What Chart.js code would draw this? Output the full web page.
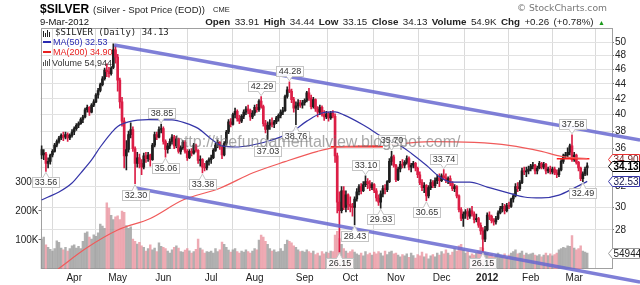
<!DOCTYPE html>
<html><head><meta charset="utf-8">
<script src="https://cdn.jsdelivr.net/npm/chart.js@4"></script>
<style>
html,body{margin:0;padding:0;background:#fff;}
#wrap{position:relative;width:640px;height:285px;overflow:hidden;font-family:"Liberation Sans",Arial,sans-serif;background:#fff;}
#wrap canvas{position:absolute;left:0;top:0;}
.t{position:absolute;white-space:nowrap;line-height:1;}
</style></head><body>
<div id="wrap">
<canvas id="c" width="640" height="285"></canvas>
<div class="t" style="left:40px;top:2.5px;font-size:12px;font-weight:bold;color:#000">$SILVER</div>
<div class="t" style="left:93px;top:4.7px;font-size:9.5px;color:#222">(Silver - Spot Price (EOD))</div>
<div class="t" style="left:213px;top:6.3px;font-size:7.5px;color:#222">CME</div>
<div class="t" style="right:33px;top:3px;font-family:'DejaVu Sans',sans-serif;font-size:9.2px;color:#777">© StockCharts.com</div>
<div class="t" style="left:40px;top:17px;font-size:9.5px;color:#111">9-Mar-2012</div>
<div class="t" style="right:35px;top:16.5px;font-size:9.8px;word-spacing:1.7px;color:#222"><b>Open</b> 33.91 <b>High</b> 34.44 <b>Low</b> 33.15 <b>Close</b> 34.13 <b>Volume</b> 54.9K <b>Chg</b> +0.26 (+0.78%) <span style="color:#1a9a1a;font-size:7px">▲</span></div>
<div class="t" id="lg1" style="left:55px;top:28.4px;font-family:'DejaVu Sans Mono',monospace;font-size:9px;color:#222"></div>
<div class="t" id="lg2" style="left:53px;top:38.4px;font-size:9px;color:#2a2ab0"></div>
<div class="t" id="lg3" style="left:53px;top:48.4px;font-size:9px;color:#e82020"></div>
<div class="t" id="lg4" style="left:52px;top:58.9px;font-size:9px;color:#333"></div>
<div class="t" style="left:175px;top:133.5px;font-size:16px;color:rgba(115,115,115,0.62)">http://thefundamentalview.blogspot.com/</div>
</div>
<script>
// ---------- data ----------
const monthIdx = [15,35,56,78,98,121,142,163,184,205,225,245];
const monthLabels = ['Apr','May','Jun','Jul','Aug','Sep','Oct','Nov','Dec','2012','Feb','Mar'];
const priceTicks = [28,30,32,34,36,38,40,42,44,46,48,50];
const volTicks = [100,200,300];

const opens = [
 35.9,35.3,35.4,34.4,34.6,35.3,35.7,36.4,36.8,37.2,37.5,37.3,37.6,37.2,37.5,
 37.9,38.3,38.7,38.9,39.4,39.7,40.6,40.9,40.3,41.2,41.6,42.5,43.1,43.9,44.7,45.9,45.7,45.4,46.3,48.9,
 47.8,44.5,41.6,39.2,35.2,35.9,37.6,38.2,36.0,34.4,35.0,34.4,34.0,35.2,34.9,35.3,34.8,36.4,37.6,37.3,38.2,
 38.3,36.8,35.9,36.3,36.8,37.3,36.3,37.1,35.7,36.1,36.7,35.7,35.0,35.7,35.5,36.4,35.8,34.7,34.8,34.0,33.9,34.6,
 34.8,35.0,35.8,36.4,36.7,36.2,35.3,36.6,37.9,39.1,38.8,40.0,40.4,39.5,39.2,39.8,40.3,40.7,40.5,39.7,
 40.2,40.9,40.6,41.7,41.0,38.9,38.2,38.7,39.0,38.8,39.1,39.6,39.9,40.3,40.5,42.3,43.2,43.0,41.9,40.8,41.1,41.5,41.2,
 41.5,41.8,42.8,42.1,41.0,41.9,40.7,40.3,40.9,40.0,39.7,40.1,39.6,40.2,39.8,35.2,30.5,29.7,31.6,30.0,31.2,
 30.3,30.1,30.0,30.8,31.5,32.0,31.6,32.2,32.5,32.3,31.9,32.2,31.6,30.9,30.5,31.3,31.8,31.7,32.5,34.6,35.1,
 34.2,32.7,33.8,34.3,34.2,34.5,34.9,34.0,34.2,34.4,33.9,33.2,32.4,31.9,32.1,31.1,31.9,32.4,32.1,32.6,32.9,
 32.6,33.1,32.9,32.6,32.8,32.3,31.8,32.0,31.1,29.8,29.0,29.4,29.6,29.2,29.7,29.4,28.9,29.0,28.4,27.9,27.2,
 28.0,29.3,29.2,28.8,28.7,29.0,29.5,29.9,30.1,29.7,30.2,30.1,30.8,31.1,32.0,31.8,32.4,33.6,33.5,33.6,
 33.8,34.1,34.2,33.6,33.9,34.4,34.0,34.3,33.6,33.8,33.5,33.8,33.4,33.2,33.7,34.6,35.2,35.3,35.6,36.3,
 34.8,35.3,34.5,33.9,32.8,33.3,33.91
];
const highs = [
 36.3,35.9,35.6,35.0,35.4,35.9,36.6,37.0,37.4,37.7,37.9,37.9,37.8,37.7,38.2,
 38.5,38.9,39.1,39.6,39.9,40.8,41.2,41.0,41.4,41.9,42.7,43.4,44.1,45.0,46.2,46.8,46.3,46.4,49.8,49.5,
 48.2,44.8,42.2,39.6,36.9,38.0,39.0,38.5,36.2,35.6,35.4,34.8,35.5,35.6,35.6,35.4,36.6,37.9,37.9,38.5,38.85,
 38.5,37.0,36.6,37.1,37.6,37.5,37.4,37.2,36.3,36.9,36.9,35.9,35.9,36.0,36.6,36.5,35.9,35.2,34.9,34.4,34.7,35.0,
 35.3,36.0,36.6,37.0,36.8,36.4,36.8,38.1,39.4,39.5,40.2,40.8,40.6,39.9,40.0,40.6,41.0,41.2,40.7,40.5,
 41.2,41.3,41.9,42.29,41.2,39.3,39.1,39.4,39.6,39.3,39.8,40.1,40.6,40.9,42.5,43.6,44.28,43.3,42.2,41.6,41.9,41.8,41.8,
 42.0,43.0,43.4,42.5,42.2,42.0,41.0,41.2,41.1,40.5,40.4,40.3,40.4,40.5,40.1,35.5,31.5,32.0,32.0,31.6,31.3,
 31.0,30.4,31.0,31.8,32.2,32.3,32.5,33.1,32.8,32.6,32.4,32.3,31.8,31.2,31.6,32.1,32.2,32.6,34.9,35.7,35.3,
 34.3,34.0,34.6,34.8,34.7,35.2,35.1,34.4,34.6,34.5,34.0,33.5,32.7,32.4,32.2,32.1,32.7,32.6,32.9,33.2,33.3,
 33.3,33.74,33.3,33.0,33.1,32.5,32.2,32.1,31.2,30.0,29.6,29.8,29.9,29.9,30.1,29.6,29.4,29.1,28.6,28.2,28.3,
 29.5,29.6,29.3,29.0,29.2,29.7,30.1,30.4,30.3,30.4,30.5,30.9,31.3,32.3,32.4,32.6,33.9,34.0,34.0,34.1,
 34.3,34.5,34.3,34.1,34.6,34.5,34.5,34.4,34.0,34.1,34.0,34.0,33.7,33.9,34.8,35.4,35.6,36.1,36.5,37.58,
 35.6,35.4,34.6,34.0,33.5,34.0,34.44
];
const lows = [
 34.9,34.8,33.56,33.9,34.3,35.1,35.6,36.2,36.6,37.0,36.9,37.1,36.8,37.0,37.3,
 37.6,38.1,38.4,38.8,39.0,39.6,40.3,39.9,40.2,41.0,41.5,42.1,42.9,43.7,44.5,45.0,44.9,45.2,46.1,46.9,
 43.0,40.8,38.6,33.9,33.7,35.6,37.2,35.7,32.3,34.0,33.9,33.2,33.8,34.5,34.6,34.1,34.7,36.2,37.0,37.2,37.8,
 36.5,35.06,35.5,36.0,36.5,36.0,36.1,35.5,35.4,35.9,35.5,34.7,34.9,35.2,35.4,35.6,34.4,34.1,33.38,33.6,33.7,34.2,
 34.4,34.9,35.7,36.1,35.9,34.9,35.2,36.4,37.7,38.5,38.7,39.6,39.2,38.9,39.0,39.5,40.0,40.1,39.3,39.5,
 39.9,40.3,40.4,40.8,38.6,37.8,37.03,38.2,38.5,38.4,38.9,39.2,39.6,40.0,40.4,42.1,42.8,41.5,40.3,38.76,40.6,40.9,40.8,
 41.2,41.6,41.8,40.7,40.8,40.4,39.7,40.0,39.8,39.3,39.5,39.2,39.4,39.6,34.5,29.5,26.15,29.5,29.8,29.6,29.8,
 29.6,29.2,28.43,30.6,31.2,31.3,31.5,32.0,31.8,31.6,31.7,31.4,30.6,30.2,29.93,31.0,31.3,31.5,32.4,34.2,34.0,
 32.5,32.6,33.5,33.9,33.9,34.3,33.7,33.5,33.9,33.6,32.9,32.2,31.6,31.4,30.65,30.9,31.7,31.9,31.9,32.3,32.0,
 32.5,32.7,32.4,32.3,32.1,31.6,31.5,30.9,29.6,28.8,28.3,29.0,28.9,29.0,29.2,28.6,28.7,28.2,27.6,26.15,27.0,
 27.9,28.9,28.6,28.4,28.5,28.9,29.4,29.6,29.4,29.6,29.9,30.0,30.5,31.0,31.5,31.6,32.3,33.2,33.0,33.3,
 33.6,33.8,33.3,33.3,33.8,33.8,33.8,33.3,33.4,33.3,33.3,33.2,32.9,33.0,33.6,34.4,34.9,35.1,35.3,34.6,
 34.6,34.3,33.6,32.6,32.49,33.1,33.15
];
const closes = [
 35.3,35.5,34.4,34.6,35.3,35.7,36.4,36.8,37.2,37.5,37.3,37.6,37.2,37.5,37.9,
 38.3,38.7,38.9,39.4,39.7,40.6,40.9,40.3,41.2,41.6,42.5,43.1,43.9,44.7,45.9,45.7,45.4,46.2,48.9,47.8,
 44.5,41.6,39.2,35.2,35.9,37.6,38.2,36.0,34.4,35.0,34.4,34.0,35.2,34.9,35.3,34.8,36.4,37.6,37.3,38.2,38.3,
 36.8,35.9,36.3,36.8,37.3,36.3,37.1,35.7,36.1,36.7,35.7,35.0,35.7,35.5,36.4,35.8,34.7,34.8,34.0,33.9,34.6,34.8,
 35.0,35.8,36.4,36.7,36.2,35.3,36.6,37.9,39.1,38.8,40.0,40.4,39.5,39.2,39.8,40.3,40.7,40.5,39.7,40.2,
 40.9,40.6,41.7,41.0,38.9,38.2,38.7,39.0,38.8,39.1,39.6,39.9,40.3,40.5,42.3,43.2,43.0,41.9,40.8,41.1,41.5,41.2,41.5,
 41.8,42.8,42.1,41.0,41.9,40.7,40.3,40.9,40.0,39.7,40.1,39.6,40.2,39.8,35.2,30.5,29.7,31.6,30.0,31.2,30.3,
 30.1,30.0,30.8,31.5,32.0,31.6,32.2,32.5,32.3,31.9,32.2,31.6,30.9,30.5,31.3,31.8,31.7,32.5,34.6,35.1,34.2,
 32.7,33.8,34.3,34.2,34.5,34.9,34.0,34.2,34.4,33.9,33.2,32.4,31.9,32.1,31.1,31.9,32.4,32.1,32.6,32.9,32.6,
 33.1,32.9,32.6,32.8,32.3,31.8,32.0,31.1,29.8,29.0,29.4,29.6,29.2,29.7,29.4,28.9,29.0,28.4,27.9,27.2,28.0,
 29.3,29.2,28.8,28.7,29.0,29.5,29.9,30.1,29.7,30.2,30.1,30.8,31.1,32.0,31.8,32.4,33.6,33.5,33.6,33.8,
 34.1,34.2,33.6,33.9,34.4,34.0,34.3,33.6,33.8,33.5,33.8,33.4,33.2,33.7,34.6,35.2,35.3,35.6,36.3,34.8,
 35.3,34.5,33.9,32.8,33.3,33.8,34.13
];
const volumesK = [
 103,110,83,75,68,62,70,97,92,72,66,75,62,70,80,
 83,72,78,70,95,124,128,110,103,118,113,125,155,148,140,228,210,185,170,180,
 183,170,200,195,150,140,145,103,95,86,92,80,75,62,70,83,66,72,60,90,78,
 75,70,62,55,66,75,80,72,60,58,65,70,63,55,60,68,103,72,66,55,60,58,
 62,55,70,60,66,93,85,75,65,58,66,70,60,55,62,58,66,60,55,62,
 70,66,100,117,110,95,85,70,62,66,58,60,70,62,85,100,95,90,80,75,66,60,62,
 58,66,60,55,62,50,55,45,60,52,58,55,62,60,117,130,105,85,70,62,55,
 60,66,58,52,48,55,45,60,50,55,48,58,52,60,55,45,62,50,58,62,52,
 55,48,42,50,45,52,40,55,46,38,50,45,58,42,52,35,45,50,42,55,48,
 60,52,66,55,48,58,70,62,80,85,66,55,60,45,52,48,55,62,75,72,58,
 55,48,52,42,50,55,48,45,52,40,48,55,60,66,52,55,62,48,55,50,
 52,55,48,45,50,42,48,55,46,52,45,50,55,66,70,75,72,80,78,115,
 72,66,70,80,62,58,54.944
];
const ma50Idx = [0,3,8,14,18,23,27,32,35,40,49,60,66,72,78,83,89,97,106,115,122,129,135,139,148,157,164,170,177,183,189,197,205,215,222,230,238,245,251];
const ma50Val = [30.70,30.99,31.47,32.36,33.38,34.76,36.18,37.78,38.56,39.11,39.38,39.35,38.98,38.33,37.1,36.3,36.18,36.41,36.98,37.89,39.2,40.2,40.33,39.96,38.73,37.3,36.5,35.5,34.2,33.0,32.45,32.45,31.96,31.37,30.99,30.9,31.18,31.87,32.53];
const ma200Idx = [7.6,21,35,50,65,82,97,112,127,135,142,156,179,199,215,230,239,251];
const ma200Val = [24.8,26.5,27.98,29.0,30.7,31.85,33.38,34.58,35.7,36.15,36.26,36.37,36.8,36.7,36.37,35.7,35.15,34.90];
const levelIdx = [[133,157],[237,252]];
const levelVal = [36.2,34.9];
const chanUpperIdx = [33.4,275.3], chanUpperVal = [49.61,36.98];
const chanLowerIdx = [43.05,275.3], chanLowerVal = [31.87,23.82];
const hiLabelIdx = [55,101,114,149,161,185,244];
const loLabelIdx = [2,43,57,74,104,117,137,144,156,177,203,249];

// ---------- build ----------
const n = closes.length;
const lastClose = closes[n-1], lastMa50 = ma50Val[ma50Val.length-1], lastMa200 = ma200Val[ma200Val.length-1];
const lastVol = Math.round(volumesK[n-1]*1000);
document.getElementById('lg1').textContent = '$SILVER (Daily) ' + lastClose.toFixed(2);
document.getElementById('lg2').textContent = 'MA(50) ' + lastMa50.toFixed(2);
document.getElementById('lg3').textContent = 'MA(200) ' + lastMa200.toFixed(2);
document.getElementById('lg4').textContent = 'Volume ' + lastVol.toLocaleString('en-US');

const isUp = closes.map((c,i) => i === 0 ? true : c >= closes[i-1]);
const UP = '#1e1e1e', DOWN = '#dc1e46';
const candleColor = ctx => isUp[ctx.dataIndex] ? UP : DOWN;
const wickData = closes.map((c,i) => ({x:i, y:[lows[i], highs[i]]}));
const bodyData = closes.map((c,i) => ({x:i, y:[opens[i], c]}));
const volData = volumesK.map((v,i) => ({x:i, y:v}));
const toPts = (xs, ys) => xs.map((x,i) => ({x:x, y:ys[i]}));
const FONT = 'Liberation Sans, Arial, sans-serif';

const datasets = [
 {type:'bar', data:volData, yAxisID:'yv', grouped:false, barThickness:1.8,
  backgroundColor: ctx => isUp[ctx.dataIndex] ? 'rgba(150,150,150,0.75)' : 'rgba(232,142,154,0.75)', order:10},
 {type:'bar', data:wickData, yAxisID:'y', grouped:false, barThickness:1, backgroundColor:candleColor, order:8},
 {type:'bar', data:bodyData, yAxisID:'y', grouped:false, barThickness:2, minBarLength:1, backgroundColor:candleColor, order:7},
 {type:'line', data:toPts(ma200Idx, ma200Val), yAxisID:'y', borderColor:'#f05a5a', borderWidth:1.2, pointRadius:0, cubicInterpolationMode:'monotone', order:6},
 {type:'line', data:toPts(levelIdx[0], [levelVal[0],levelVal[0]]), yAxisID:'y', borderColor:'#ff1e1e', borderWidth:1.5, pointRadius:0, order:6},
 {type:'line', data:toPts(levelIdx[1], [levelVal[1],levelVal[1]]), yAxisID:'y', borderColor:'#ff1e1e', borderWidth:1.5, pointRadius:0, order:6},
 {type:'line', data:toPts(ma50Idx, ma50Val), yAxisID:'y', borderColor:'#3535a8', borderWidth:1.2, pointRadius:0, cubicInterpolationMode:'monotone', order:5},
 {type:'line', data:toPts(chanUpperIdx, chanUpperVal), yAxisID:'y', borderColor:'rgba(104,104,208,0.85)', borderWidth:3.5, pointRadius:0, clip:false, order:1},
 {type:'line', data:toPts(chanLowerIdx, chanLowerVal), yAxisID:'y', borderColor:'rgba(104,104,208,0.85)', borderWidth:3.5, pointRadius:0, clip:false, order:1}
];

function annoBox(ctx, x, y, text, isHigh) {
  ctx.font = '9px ' + FONT;
  const w = Math.round(ctx.measureText(text).width + 4), h = 10;
  const bx = Math.round(x - w/2) + 0.5;
  const by = isHigh ? Math.round(y - 6 - h) + 0.5 : Math.round(y + 6) + 0.5;
  ctx.fillStyle = 'rgba(255,255,255,0.92)';
  ctx.strokeStyle = '#c4c4c4';
  ctx.lineWidth = 1;
  ctx.beginPath();
  if (isHigh) { ctx.moveTo(x-3, by+h); ctx.lineTo(x, y-1); ctx.lineTo(x+3, by+h); }
  else { ctx.moveTo(x-3, by); ctx.lineTo(x, y+1); ctx.lineTo(x+3, by); }
  ctx.closePath(); ctx.fill(); ctx.stroke();
  ctx.fillRect(bx, by, w, h); ctx.strokeRect(bx, by, w, h);
  ctx.beginPath();
  if (isHigh) { ctx.moveTo(x-2.5, by+h); ctx.lineTo(x+2.5, by+h); } else { ctx.moveTo(x-2.5, by); ctx.lineTo(x+2.5, by); }
  ctx.strokeStyle = '#fff'; ctx.stroke();
  ctx.fillStyle = '#333'; ctx.textAlign = 'center'; ctx.textBaseline = 'middle';
  ctx.fillText(text, bx + w/2, by + h/2 + 0.5);
}
function tag(ctx, y, text, border, color, bold) {
  const x0 = 608.5, x1 = 639.5, h = 10; y = Math.round(y) + 0.5;
  ctx.beginPath();
  ctx.moveTo(x0, y); ctx.lineTo(x0+4, y-h/2); ctx.lineTo(x1, y-h/2); ctx.lineTo(x1, y+h/2); ctx.lineTo(x0+4, y+h/2); ctx.closePath();
  ctx.fillStyle = '#fff'; ctx.fill(); ctx.strokeStyle = border; ctx.lineWidth = 1; ctx.stroke();
  ctx.fillStyle = color; ctx.font = (bold ? 'bold ' : '') + '10px ' + FONT;
  ctx.textAlign = 'left'; ctx.textBaseline = 'middle';
  ctx.fillText(text, x0 + 5, y + 0.5);
}
const deco = {
  id: 'deco',
  beforeDatasetsDraw(chart) {
    const {ctx, chartArea:a} = chart;
    ctx.save(); ctx.strokeStyle = '#a0a0a0'; ctx.lineWidth = 1;
    ctx.strokeRect(Math.round(a.left)+0.5, Math.round(a.top)+0.5, Math.round(a.right-a.left)-1, Math.round(a.bottom-a.top)-1);
    ctx.restore();
  },
  afterDraw(chart) {
    const {ctx} = chart; const xs = chart.scales.x, ys = chart.scales.y, yv = chart.scales.yv;
    ctx.save();
    ctx.fillStyle = '#222';
    ctx.fillRect(43,31,1,6); ctx.fillRect(45,33,1,4); ctx.fillRect(47,30,1,7); ctx.fillRect(49,32,1,5);
    ctx.fillStyle = '#2a2ab0'; ctx.fillRect(43,41,8,2);
    ctx.fillStyle = '#e82020'; ctx.fillRect(43,51,8,2);
    ctx.fillStyle = '#555'; ctx.fillRect(43,62,1,4); ctx.fillRect(45,60,1,6); ctx.fillRect(47,61,1,5); ctx.fillRect(49,59,1,7);
    hiLabelIdx.forEach(i => annoBox(ctx, xs.getPixelForValue(i), ys.getPixelForValue(highs[i]), highs[i].toFixed(2), true));
    loLabelIdx.forEach(i => annoBox(ctx, xs.getPixelForValue(i), ys.getPixelForValue(lows[i]), lows[i].toFixed(2), false));
    tag(ctx, ys.getPixelForValue(lastMa200), lastMa200.toFixed(2), '#e83030', '#702020', false);
    tag(ctx, ys.getPixelForValue(lastClose), lastClose.toFixed(2), '#000', '#000', true);
    tag(ctx, ys.getPixelForValue(lastMa50), lastMa50.toFixed(2), '#3535a8', '#202050', false);
    tag(ctx, yv.getPixelForValue(volumesK[n-1]), String(lastVol), '#999', '#222', false);
    ctx.restore();
  }
};

new Chart(document.getElementById('c'), {
  type: 'bar',
  data: { datasets },
  plugins: [deco],
  options: {
    responsive: false, animation: false, devicePixelRatio: 1,
    layout: { padding: { top: 28, left: 0, right: 0, bottom: 0 } },
    plugins: { legend: {display:false}, tooltip: {enabled:false}, title: {display:false} },
    scales: {
      x: { type:'linear', position:'bottom', min:-0.5, max:262.4, bounds:'data', offset:false,
        afterBuildTicks: s => { s.ticks = monthIdx.map(v => ({value:v})); },
        afterFit: s => { s.height = 16; },
        ticks: { autoSkip:false, maxRotation:0, padding:3, color:'#222',
          font: ctx => ({family:FONT, size:10, weight: (ctx.tick && ctx.tick.value === 205) ? 'bold' : 'normal'}),
          callback: (v, i) => monthLabels[i] },
        grid: { color:'#dadada', drawTicks:false, lineWidth:1 },
        border: { display:false } },
      y: { type:'logarithmic', position:'right', min:24.8, max:52.3, bounds:'data',
        afterBuildTicks: s => { s.ticks = priceTicks.map(v => ({value:v})); },
        afterFit: s => { s.width = 28; },
        ticks: { autoSkip:false, padding:1, color:'#222', font:{family:FONT, size:10}, callback: v => String(v) },
        grid: { color:'#e2e2e2', tickLength:2, tickColor:'#777' },
        border: { display:false } },
      yv: { type:'linear', position:'left', min:0, max:831, bounds:'data',
        afterBuildTicks: s => { s.ticks = volTicks.map(v => ({value:v})); },
        afterFit: s => { s.width = 40.5; },
        ticks: { autoSkip:false, padding:0, color:'#222', font:{family:FONT, size:10}, callback: v => v + 'K' },
        grid: { drawOnChartArea:false, tickLength:2, tickColor:'#777' },
        border: { display:false } }
    }
  }
});
</script>
</body></html>
